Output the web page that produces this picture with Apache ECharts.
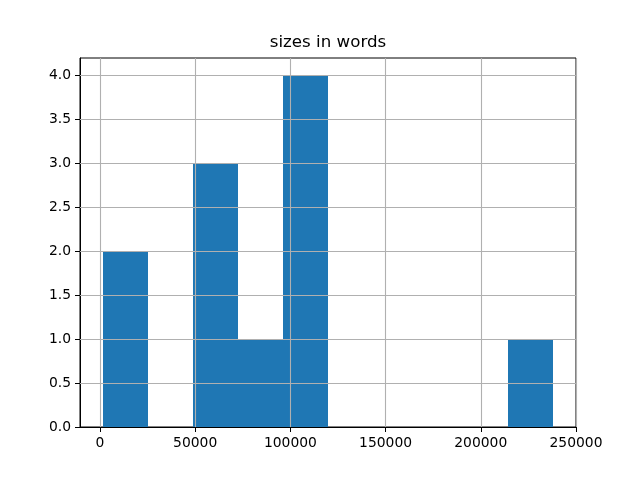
<!DOCTYPE html>
<html>
<head>
<meta charset="utf-8">
<script src="https://cdn.jsdelivr.net/npm/echarts@6/dist/echarts.min.js"></script>
<style>html,body{margin:0;padding:0;background:#fff}#c{width:640px;height:480px}</style>
</head>
<body>
<div id="c"></div>
<script>
// Histogram bin edges (words) and counts per bin
const binEdges = [1350, 25030, 48710, 72390, 96070, 119750, 143430, 167110, 190790, 214470, 238150];
const counts = [2, 0, 3, 1, 4, 0, 0, 0, 0, 1];
const xTicks = [0, 50000, 100000, 150000, 200000, 250000];
const yTicks = [0, 0.5, 1.0, 1.5, 2.0, 2.5, 3.0, 3.5, 4.0];
const titleText = 'sizes in words';

const barData = counts.map((c, i) => [binEdges[i], binEdges[i + 1], c]);
const FONT = 'DejaVu Sans';
const gridLines = [];
xTicks.forEach(v => gridLines.push({ xAxis: v }));
yTicks.forEach(v => { if (v > 0) gridLines.push({ yAxis: v }); });

const chart = echarts.init(document.getElementById('c'), null, { renderer: 'canvas' });
chart.setOption({
  animation: false,
  backgroundColor: '#fff',
  graphic: [{
    type: 'text',
    x: 328, y: 43,
    style: {
      text: titleText,
      align: 'center', verticalAlign: 'middle',
      fontFamily: FONT, fontSize: 16.67, fill: '#000'
    }
  }],
  grid: { left: 80, right: 64, top: 58, bottom: 53, show: true, borderColor: '#000', borderWidth: 1, backgroundColor: 'transparent', containLabel: false },
  xAxis: {
    type: 'value',
    min: -10490, max: 250010,
    axisLine: { show: true, onZero: false, lineStyle: { color: '#000', width: 1 } },
    axisTick: { show: true, length: 5, lineStyle: { color: '#000' }, customValues: xTicks },
    axisLabel: { customValues: xTicks, fontFamily: FONT, fontSize: 13.89, color: '#000', margin: 9, formatter: v => String(v) },
    splitLine: { show: false }
  },
  yAxis: {
    type: 'value',
    min: 0, max: 4.2,
    axisLine: { show: true, onZero: false, lineStyle: { color: '#000', width: 1 } },
    axisTick: { show: true, length: 5, lineStyle: { color: '#000' }, customValues: yTicks },
    axisLabel: { customValues: yTicks, fontFamily: FONT, fontSize: 13.89, color: '#000', margin: 9, formatter: v => v.toFixed(1) },
    splitLine: { show: false }
  },
  series: [{
    type: 'custom',
    data: barData,
    encode: { x: [0, 1], y: 2 },
    renderItem: function (params, api) {
      const c = api.value(2);
      if (!c) return null;
      const p0 = api.coord([api.value(0), c]);
      const p1 = api.coord([api.value(1), 0]);
      const x0 = Math.round(p0[0]), x1 = Math.round(p1[0]);
      const y0 = Math.round(p0[1]), y1 = Math.round(p1[1]);
      return {
        type: 'rect',
        shape: { x: x0, y: y0, width: x1 - x0, height: y1 - y0 },
        style: { fill: '#1f77b4' }
      };
    },
    z: 2
  }, {
    type: 'line',
    data: [],
    z: 5,
    markLine: {
      silent: true,
      symbol: ['none', 'none'],
      label: { show: false },
      lineStyle: { color: '#b0b0b0', width: 1.1, type: 'solid' },
      data: gridLines,
      animation: false
    }
  }]
});
</script>
</body>
</html>
